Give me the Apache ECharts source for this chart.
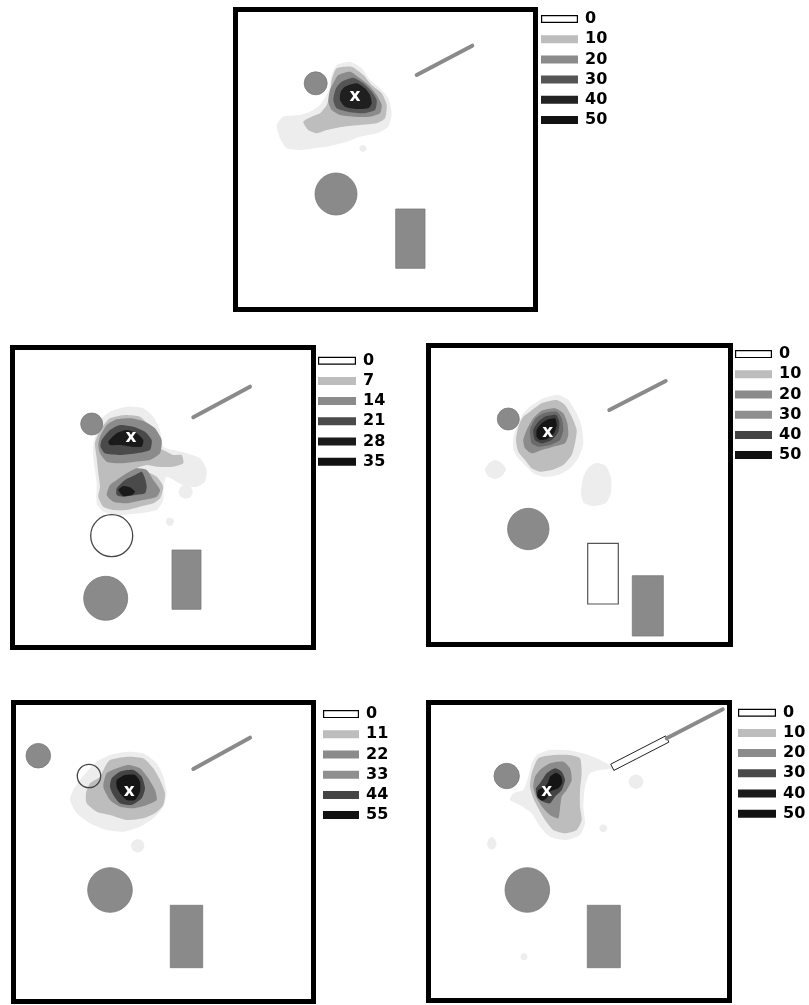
<!DOCTYPE html>
<html><head><meta charset="utf-8">
<script src="https://cdn.jsdelivr.net/npm/echarts@6/dist/echarts.min.js"></script>
<style>html,body{margin:0;padding:0;background:#fff}#c{width:809px;height:1005px}</style>
</head><body><div id="c"></div><script>
// ---------- DATA (arena units, origin = inner top-left of each arena, y downward) ----------
// Panel 1
const P1_LABELS = ['0','10','20','30','40','50'];
const P1_CONTOURS = [
  [0,[[98.7,53],[112,49.7],[123.7,56.3],[132,68],[142,76.3],[150.3,86.3],[153.7,101.3],[150.3,114.7],[138.7,121.3],[122,124.7],[113.7,128],[103.7,131.3],[88.7,134.7],[75.3,136.3],[62,138],[48.7,136.3],[42,126.3],[38.7,113],[45.3,104.7],[62,103],[72,99.7],[82,93],[90.3,79.7],[93.7,63]]],
  [0,[[123,133.5],[127,133.8],[128.8,137],[126.2,139.8],[122.8,139.2],[121.3,136.4]]],
  [1,[[98.7,56.3],[113.7,54.7],[125.3,63],[133.7,73],[143.7,81.3],[148.7,93],[147,106.3],[138.7,111.3],[122,113],[105.3,114.7],[88.7,118],[78.7,121.3],[70.3,118],[65.3,109.7],[73.7,104.7],[82,101.3],[88.7,93],[92,83],[93.7,68]]],
  [2,[[100.3,63],[112,59.7],[122,66.3],[132,74.7],[138.7,83],[143.7,93],[142,101.3],[132,104.7],[115.3,104.7],[102,103],[93.7,98],[90.3,89.7],[92,78],[97,68]]],
  [3,[[103.7,69.7],[115.3,65.7],[125.3,71.3],[133.7,79.7],[138.7,88],[137,98],[125.3,101.3],[112,100.3],[98.7,96.3],[95.3,88],[98,76.3]]],
  [4,[[107,74.7],[118.7,71.3],[127,76.3],[132,83],[133.7,91.3],[130.3,96.3],[118.7,97],[107,94.7],[102,88],[102.7,79.7]]]
];
const P1_CIRCLES = [[77.7,71.3,11.5,'fill'],[98,182,21,'fill']];
const P1_RECTS = [[157.7,197,187,256.3,'fill']];
const P1_RODS = [[178.7,63,234.3,33.7,4,'fill']];
const P1_MARKS = [[117,86.3]];

// Panel 2
const P2_LABELS = ['0','7','14','21','28','35'];
const P2_CONTOURS = [
  [0,[[95,61.7],[111.7,56.7],[128.3,58.3],[138.3,66.7],[145,80],[148.3,96.7],[158.3,100],[171.7,103.3],[185,108.3],[191.7,120],[190,131.7],[181.7,136.7],[171.7,136.7],[161.7,131.7],[151.7,126.7],[148.3,136.7],[148.3,150],[141.7,160],[125,163.3],[105,165],[88.3,161.7],[81.7,153.3],[81.7,133.3],[80,120],[78.3,106.7],[78.3,93.3],[81.7,81.7],[85,70]]],
  [0,[[170.7,134.7],[176,137],[177.7,141.7],[175.5,147],[170.7,148.7],[165.5,146.5],[163.7,141.7],[166,136.5]]],
  [0,[[155,167.7],[158.5,169.5],[159,172],[157,175.5],[153,175.5],[151,172],[152,168.5]]],
  [1,[[85,80],[95,68.3],[110,65],[125,66.7],[133.3,75],[140,86.7],[145,98.3],[151.7,101.7],[158.3,105],[166.7,105],[168.3,113.3],[158.3,116.7],[141.7,116.7],[131.7,115],[121.7,118.3],[131.7,121.7],[141.7,126.7],[148.3,136.7],[145,148.3],[138.3,153.3],[125,156.7],[111.7,160],[98.3,160],[88.3,156.7],[83.3,146.7],[85,136.7],[83.3,123.3],[81.7,108.3],[80,93.3]]],
  [2,[[85,86.7],[91.7,75],[101.7,69.3],[116.7,68.3],[130,71.7],[140,78.3],[146.7,90],[145,103.3],[135,110],[120,111.7],[105,113.3],[91.7,111.7],[85,103.3],[83.3,95]]],
  [2,[[101.7,130],[111.7,123.3],[121.7,118.3],[131.7,120],[138.3,130],[145,140],[141.7,146.7],[128.3,150],[111.7,153.3],[98.3,151.7],[91.7,145],[95,135]]],
  [3,[[86.7,90],[95,80],[105,75],[118.3,76.7],[130,81.7],[136.7,90],[135,100],[121.7,103.3],[105,105],[90,103.3],[85.5,96.7]]],
  [3,[[101.7,138.3],[110,130],[120,125],[126.7,121.7],[130,128.3],[131.7,136.7],[130,143.3],[120,145],[108.3,146.7],[101.7,145]]],
  [4,[[93.3,91.7],[101.7,83.3],[111.7,80],[121.7,83.3],[128.3,90],[126.7,96.7],[116.7,96.7],[105,95],[95,95]]],
  [4,[[103.3,140],[108.3,136],[115,137.3],[120,141.7],[116.7,145],[108.3,146]]]
];
const P2_CIRCLES = [[76.7,74,11,'fill'],[96.7,185.7,21,'outline'],[90.7,248.3,22,'fill']];
const P2_RECTS = [[157,200,186,259.3,'fill']];
const P2_RODS = [[178.3,67.3,235,36.7,4,'fill']];
const P2_MARKS = [[116,89.3]];

// Panel 3
const P3_LABELS = ['0','10','20','30','40','50'];
const P3_CONTOURS = [
  [0,[[99,58.7],[112.3,50.3],[127.3,47],[137.3,52],[145.7,65.3],[150.7,78.7],[152.3,95.3],[147.3,110.3],[139,120.3],[127.3,127],[112.3,128.7],[102.3,125.3],[95.7,118.7],[87.3,110.3],[82.3,102],[82.3,88.7],[87.3,75.3],[92.3,65.3]]],
  [0,[[64,112],[70,114.5],[75,121],[71,128],[64,131],[57,128],[54,121.5],[58,115]]],
  [0,[[165,115],[175,118],[180,130],[180,145],[175,155],[163,158],[153,155],[150,145],[152,130],[157,120]]],
  [1,[[99,63.7],[110.7,55.3],[125.7,52],[134,57],[140.7,68.7],[145.7,82],[144,95.3],[140.7,107],[132.3,117],[120.7,122],[109,123.7],[100.7,120.3],[94,112],[87.3,103.7],[85,92],[87.3,78.7],[92.3,68.7]]],
  [2,[[95.7,82],[102.3,70.3],[110.7,62.7],[124,60.3],[132.3,65.3],[136.3,75.3],[137.3,87],[134,95.3],[122.3,98.7],[110.7,102],[100.7,105.3],[94,100.3],[92.3,92]]],
  [3,[[99,82],[104,71.3],[112.3,65.3],[125.7,63.7],[130.7,70.3],[132.3,82],[129,92],[119,97],[107.3,98.7],[100.7,95.3]]],
  [4,[[102.3,82],[107.3,73.7],[114,68.7],[125,67],[128.3,73.7],[127.3,83.7],[120.7,92],[110.7,95.3],[104,92]]],
  [5,[[105.7,82],[110.7,75.3],[117.3,71.3],[124,70.3],[125.7,77],[123,85.3],[115.7,91.3],[109,92],[105.7,88.7]]]
];
const P3_CIRCLES = [[77.3,71,11,'fill'],[97.3,181,20.7,'fill']];
const P3_RECTS = [[156.7,195.3,187.3,256,'outline'],[201.3,227.7,232.3,288,'fill']];
const P3_RODS = [[178.3,62,234.7,33,4,'fill']];
const P3_MARKS = [[116.8,85.8]];

// Panel 4
const P4_LABELS = ['0','11','22','33','44','55'];
const P4_CONTOURS = [
  [0,[[94,50],[110.7,46.7],[127.3,48.3],[140.7,58.3],[147.3,71.7],[150.7,88.3],[147.3,101.7],[137.3,113.3],[124,121.7],[107.3,126.7],[90.7,125],[74,118.3],[60.7,108.3],[54,95],[57.3,85],[64,75],[70.7,66.7],[80.7,56.7]]],
  [0,[[121.7,134],[126.5,136],[128.5,140.7],[126.5,145.5],[121.7,147.5],[117,145.5],[115,140.7],[117,136]]],
  [1,[[94,55],[110.7,51.7],[127.3,53.3],[137.3,63.3],[144,75],[149,88.3],[147.3,100],[139,108.3],[127.3,113.3],[110.7,115],[94,110],[80.7,106.7],[70.7,98.3],[70,88.3],[74,78.3],[84,71.7],[89,61.7]]],
  [2,[[90.7,68.3],[100.7,63.3],[112.3,60],[124,63.3],[132.3,73.3],[139,85],[140.7,95],[130.7,100],[117.3,103.3],[104,101.7],[94,95],[87.3,81.7]]],
  [4,[[95.7,73.3],[104,66.7],[117.3,65],[125.7,71.7],[129,83.3],[125.7,93.3],[115.7,100],[104,98.3],[97.3,90],[94,81.7]]],
  [5,[[100.7,75],[109,70],[119,70],[124,76.7],[124,86.7],[119,95],[110.7,95],[104,88.3],[100.7,81.7]]]
];
const P4_CIRCLES = [[22.3,50.7,12.3,'fill'],[73,71,11.7,'outline'],[94,185,22.3,'fill']];
const P4_RECTS = [[154.3,200.3,186.7,262.7,'fill']];
const P4_RODS = [[177.3,64,234,32.7,4,'fill']];
const P4_MARKS = [[113.3,88.3]];

// Panel 5
const P5_LABELS = ['0','10','20','30','40','50'];
const P5_CONTOURS = [
  [0,[[105.7,50],[119,45],[135.7,45],[152.3,48.3],[165.7,53.3],[175.7,58.3],[182.3,63.3],[169,65],[159,68.3],[154,81.7],[152.3,101.7],[154,118.3],[149,130],[135.7,135],[119,131.7],[109,121.7],[100.7,108.3],[89,100],[79,95],[82.3,88.3],[92.3,85],[97.3,71.7],[100.7,58.3]]],
  [0,[[205,69.5],[210.5,72],[212.5,76.7],[210.5,81.5],[205,84],[199.5,81.5],[197.5,76.7],[199.5,72]]],
  [0,[[172.3,119.5],[175.5,121],[176.3,123.3],[175,126],[172.3,127],[169.5,126],[168.3,123.3],[169.5,120.5]]],
  [0,[[60.7,132],[64,134.5],[65.5,139],[63.5,143.5],[60.7,144.5],[58,143.5],[56,139],[57.5,134.5]]],
  [0,[[93,248.2],[95.5,249.2],[96.5,251.7],[95.5,254.2],[93,255.2],[90.5,254.2],[89.5,251.7],[90.5,249.2]]],
  [1,[[107.3,53.3],[122.3,50],[139,50],[149,53.3],[150.7,68.3],[149,85],[149,101.7],[150.7,115],[145.7,125],[134,128.3],[122.3,125],[114,115],[107.3,103.3],[102.3,93.3],[99,81.7],[100.7,68.3]]],
  [2,[[109,65],[119,58.3],[132.3,56.7],[139,63.3],[140.7,75],[135.7,85],[130.7,91.7],[129,103.3],[127.3,113.3],[119,110],[112.3,103.3],[105.7,93.3],[102.3,81.7],[104,71.7]]],
  [3,[[109,78.3],[115.7,68.3],[124,63.3],[130.7,66.7],[134,75],[130.7,85],[124,91.7],[119,98.3],[112.3,96.7],[105.7,90],[105,83.3]]],
  [4,[[119,71.7],[125,67.7],[130,71],[131.3,77.7],[127.3,83.3],[119,86.7],[115.7,93.3],[110.7,95.7],[106.3,91.7],[107.3,85],[114,81.7],[117.3,76.7]]]
];
const P5_CIRCLES = [[75.7,71,12.7,'fill'],[96.3,185,22.3,'fill']];
const P5_RECTS = [[156.3,200.3,189.3,262.7,'fill']];
const P5_RODS = [[181.3,62.3,236.3,34,7,'outline'],[235.7,33.3,291.7,4.3,4,'fill']];
const P5_MARKS = [[115.7,88.3]];

// ---------- LAYOUT / STYLE ----------
const HALO = '#ededed', L1 = '#bdbdbd', L2 = '#8b8b8b';
const PANELS = [
  {box:[233,7,305,305], legend:[541,8.9,37,121.2], labels:P1_LABELS, contours:P1_CONTOURS, circles:P1_CIRCLES, rects:P1_RECTS, rods:P1_RODS, marks:P1_MARKS,
   bands:[HALO,L1,L2,'#555555','#1f1f1f'], swatches:['#ffffff',L1,L2,'#555555','#222222','#111111']},
  {box:[10,345,306,305], legend:[318,350.6,38,121.2], labels:P2_LABELS, contours:P2_CONTOURS, circles:P2_CIRCLES, rects:P2_RECTS, rods:P2_RODS, marks:P2_MARKS,
   bands:[HALO,L1,L2,'#4a4a4a','#1a1a1a'], swatches:['#ffffff',L1,L2,'#4a4a4a','#1a1a1a','#111111']},
  {box:[426,343,307,304], legend:[735,344,37,121.2], labels:P3_LABELS, contours:P3_CONTOURS, circles:P3_CIRCLES, rects:P3_RECTS, rods:P3_RODS, marks:P3_MARKS,
   bands:[HALO,L1,L2,'#6a6a6a','#404040','#151515'], swatches:['#ffffff',L1,L2,'#8f8f8f','#444444','#111111']},
  {box:[11,700,305,304], legend:[323,704,36,121.2], labels:P4_LABELS, contours:P4_CONTOURS, circles:P4_CIRCLES, rects:P4_RECTS, rods:P4_RODS, marks:P4_MARKS,
   bands:[HALO,L1,L2,'#8f8f8f','#444444','#151515'], swatches:['#ffffff',L1,L2,'#8f8f8f','#444444','#111111']},
  {box:[426,700,306,303], legend:[738,702.6,38,121.2], labels:P5_LABELS, contours:P5_CONTOURS, circles:P5_CIRCLES, rects:P5_RECTS, rods:P5_RODS, marks:P5_MARKS,
   bands:[HALO,L1,L2,'#444444','#151515'], swatches:['#ffffff',L1,L2,'#4a4a4a','#1a1a1a','#111111']}
];
const OBJ = '#8a8a8a', OBJ_EDGE = '#7a7a7a';

const grid = [], xAxis = [], yAxis = [], series = [];
PANELS.forEach(p => {
  const gi = grid.length;
  const [bx, by, bw, bh] = p.box;
  grid.push({left:bx+2.5, top:by+2.5, width:bw-5, height:bh-5, show:true, borderColor:'#000', borderWidth:5, backgroundColor:'#fff', outerBoundsMode:'none'});
  xAxis.push({gridIndex:gi, type:'value', min:-2.5, max:bw-7.5, show:false});
  yAxis.push({gridIndex:gi, type:'value', min:-2.5, max:bh-7.5, inverse:true, show:false});
  const base = {type:'custom', coordinateSystem:'cartesian2d', xAxisIndex:gi, yAxisIndex:gi, silent:true, animation:false};
  // contour bands
  series.push(Object.assign({}, base, {
    data: p.contours.map(c => c[1][0]),
    renderItem: (params, api) => {
      const c = p.contours[params.dataIndex];
      return {type:'polygon', shape:{points:c[1].map(pt => api.coord(pt)), smooth:0.2}, style:{fill:p.bands[c[0]]}};
    }
  }));
  // rectangles
  series.push(Object.assign({}, base, {
    data: p.rects.map(r => [r[0], r[1], r[2], r[3]]),
    encode:{x:[0,2], y:[1,3]},
    renderItem: (params, api) => {
      const r = p.rects[params.dataIndex];
      const a = api.coord([r[0], r[1]]), b = api.coord([r[2], r[3]]);
      const out = r[4] === 'outline';
      return {type:'rect', shape:{x:Math.min(a[0],b[0]), y:Math.min(a[1],b[1]), width:Math.abs(b[0]-a[0]), height:Math.abs(b[1]-a[1])},
        style: out ? {fill:'#fff', stroke:'#555', lineWidth:1.2} : {fill:OBJ, stroke:OBJ_EDGE, lineWidth:0.8}};
    }
  }));
  // circles
  series.push(Object.assign({}, base, {
    data: p.circles.map(c => [c[0], c[1], c[2]]),
    renderItem: (params, api) => {
      const c = p.circles[params.dataIndex];
      const ctr = api.coord([c[0], c[1]]);
      const r = api.size([c[2], 0])[0];
      const out = c[3] === 'outline';
      return {type:'circle', shape:{cx:ctr[0], cy:ctr[1], r:r},
        style: out ? {fill:'none', stroke:'#444', lineWidth:1.3} : {fill:OBJ, stroke:OBJ_EDGE, lineWidth:0.8}};
    }
  }));
  // rods
  series.push(Object.assign({}, base, {
    data: p.rods.map(r => [r[0], r[1], r[2], r[3], r[4]]),
    encode:{x:[0,2], y:[1,3]},
    renderItem: (params, api) => {
      const r = p.rods[params.dataIndex];
      const a = api.coord([r[0], r[1]]), b = api.coord([r[2], r[3]]);
      const w = api.size([r[4], 0])[0];
      if (r[5] === 'outline') {
        const dx = b[0]-a[0], dy = b[1]-a[1], L = Math.hypot(dx, dy);
        const nx = -dy / L * w / 2, ny = dx / L * w / 2;
        return {type:'polygon', shape:{points:[[a[0]+nx,a[1]+ny],[b[0]+nx,b[1]+ny],[b[0]-nx,b[1]-ny],[a[0]-nx,a[1]-ny]]},
          style:{fill:'#fff', stroke:'#222', lineWidth:1}};
      }
      return {type:'line', shape:{x1:a[0], y1:a[1], x2:b[0], y2:b[1]}, style:{stroke:OBJ, lineWidth:w, lineCap:'round'}};
    }
  }));
  // x marks
  series.push(Object.assign({}, base, {
    data: p.marks,
    renderItem: (params, api) => {
      const m = p.marks[params.dataIndex];
      const c = api.coord(m);
      return {type:'text', x:c[0], y:c[1]-1.5, style:{text:'x', fill:'#fff', font:'bold 17px "DejaVu Sans"', align:'center', verticalAlign:'middle'}};
    }
  }));
  // legend (colour key) as a tiny bar chart
  const li = grid.length;
  const [lx, ly, lw, lh] = p.legend;
  grid.push({left:lx, top:ly, width:lw, height:lh, show:false, outerBoundsMode:'none'});
  xAxis.push({gridIndex:li, type:'value', min:0, max:1, show:false});
  yAxis.push({gridIndex:li, type:'category', data:p.labels, inverse:true, position:'right',
    axisLine:{show:false}, axisTick:{show:false}, splitLine:{show:false},
    axisLabel:{interval:0, margin:7, color:'#000', fontSize:16, fontWeight:'bold', fontFamily:'DejaVu Sans'}});
  series.push({type:'bar', xAxisIndex:li, yAxisIndex:li, barWidth:8, silent:true, animation:false,
    data: p.swatches.map((c, i) => ({value:1, itemStyle:{color:c, borderColor: i === 0 ? '#000' : c, borderWidth: i === 0 ? 1.2 : 0}}))});
});

const chart = echarts.init(document.getElementById('c'), null, {renderer:'canvas'});
chart.setOption({backgroundColor:'#fff', animation:false, grid, xAxis, yAxis, series});
</script></body></html>
